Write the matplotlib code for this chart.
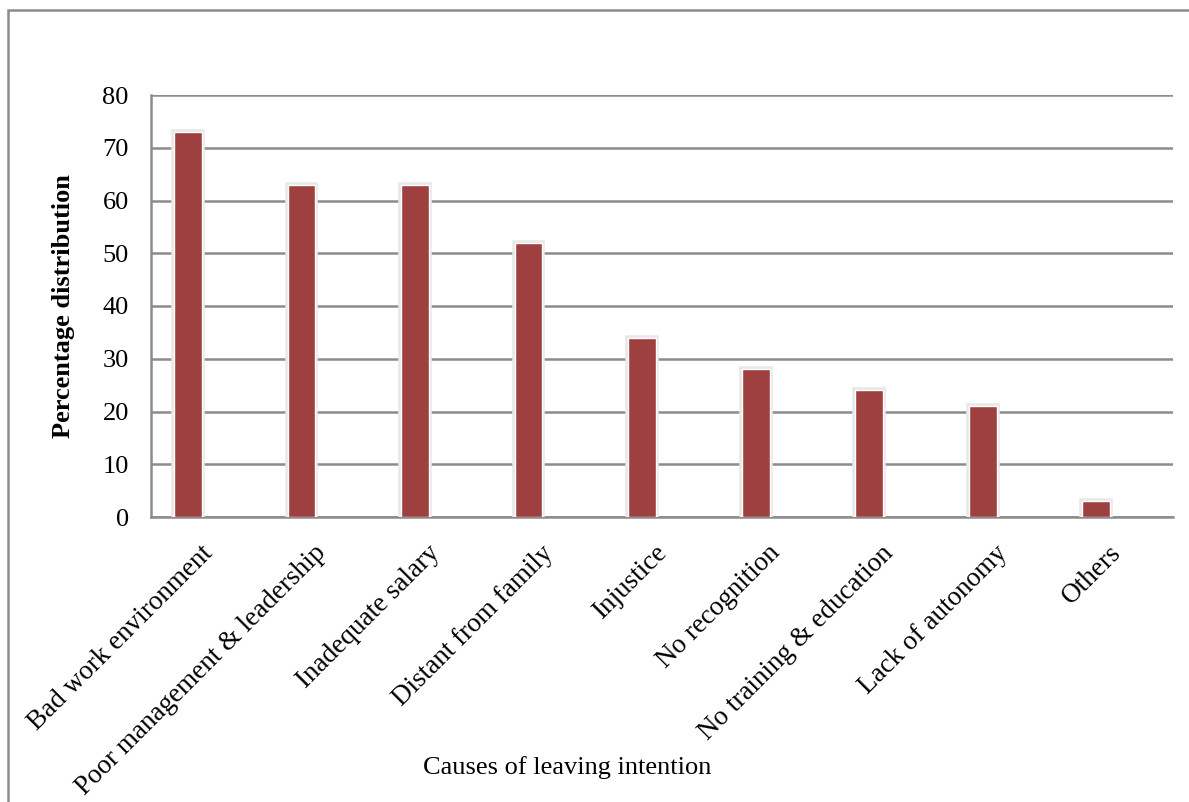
import matplotlib.pyplot as plt
import matplotlib.patheffects as pe
import matplotlib.transforms as mtransforms
from matplotlib.patches import Rectangle

# data
causes = ["Bad work environment", "Poor management & leadership", "Inadequate salary",
          "Distant from family", "Injustice", "No recognition",
          "No training & education", "Lack of autonomy", "Others"]
percent = [73, 63, 63, 52, 34, 28, 24, 21, 3]
yticks = [0, 10, 20, 30, 40, 50, 60, 70, 80]

plt.rcParams['font.family'] = ['Liberation Serif', 'DejaVu Serif']

W, H = 1189, 802
fig = plt.figure(figsize=(W / 100, H / 100), dpi=100)
ax = fig.add_axes([151 / W, 1 - 517 / H, (1173 - 151) / W, (517 - 95) / H])

x = list(range(len(causes)))
# bars sit left of the category centre in the source chart
bar_x = [i - 0.175 for i in x]
bars = ax.bar(bar_x, percent, width=0.245, color='#9e4040', edgecolor='white', linewidth=1.0,
              zorder=3)
for b in bars:
    b.set_path_effects([pe.Stroke(linewidth=4, foreground='#e8e8e8'), pe.Normal()])

ax.set_xlim(-0.5, len(causes) - 0.5)
ax.set_ylim(0, 80)
ax.set_yticks(yticks)
ax.set_yticklabels([str(v) for v in yticks], fontsize=19)
ax.set_xticks(x)
ax.set_xticklabels(causes, rotation=45, ha='right', rotation_mode='anchor', fontsize=19.5)
ax.tick_params(axis='both', length=0)
ax.tick_params(axis='y', pad=16)
ax.tick_params(axis='x', pad=17)

# nudge the rotated labels a little to the left
shift = mtransforms.ScaledTranslation(-8 / 100, 0, fig.dpi_scale_trans)
for lbl in ax.get_xticklabels():
    lbl.set_transform(lbl.get_transform() + shift)

ax.grid(axis='y', color='#8c8c8c', linewidth=1.8, zorder=0)
ax.set_axisbelow(True)
for s in ['top', 'right']:
    ax.spines[s].set_visible(False)
ax.spines['left'].set_color('#8c8c8c')
ax.spines['left'].set_linewidth(1.8)
ax.spines['bottom'].set_color('#8c8c8c')
ax.spines['bottom'].set_linewidth(1.8)

ax.set_ylabel('Percentage distribution', fontsize=19, fontweight='bold', labelpad=20)
fig.text(567 / W, 1 - 768 / H, 'Causes of leaving intention', fontsize=19,
         ha='center', va='center')

# outer chart border (cut off at right and bottom like the source)
fig.patches.append(Rectangle((8 / W, -0.1), 1.2, 1 - 10 / H + 0.1, transform=fig.transFigure,
                             fill=False, edgecolor='#8c8c8c', linewidth=1.8))

fig.savefig('out.png', dpi=100)
